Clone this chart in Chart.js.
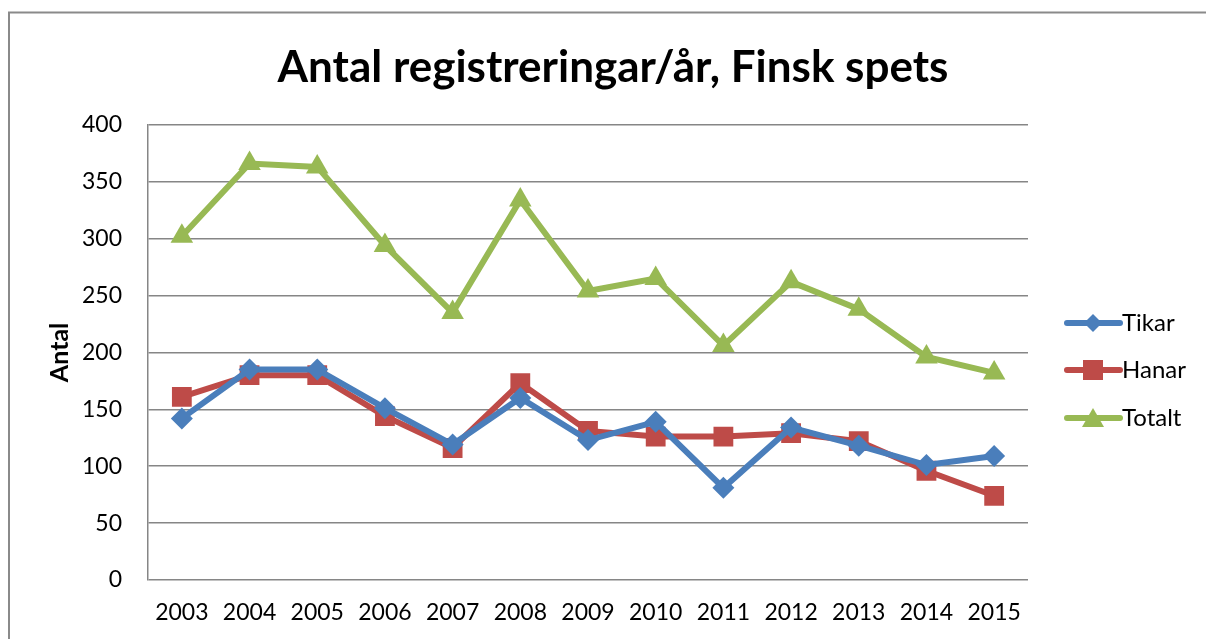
<!DOCTYPE html>
<html><head><meta charset="utf-8">
<script src="https://cdn.jsdelivr.net/npm/chart.js@4/dist/chart.umd.min.js"></script>
<style>html,body{margin:0;padding:0;background:#fff}#wrap{width:1206px;height:639px;position:relative}</style>
</head><body><div id="wrap"><canvas id="c" width="1206" height="639"></canvas></div>
<script>
const years = ['2003','2004','2005','2006','2007','2008','2009','2010','2011','2012','2013','2014','2015'];
const tikar = [142,185,185,151,119,160,123,139,81,134,118,101,109];
const hanar = [161,180,180,144,116,173,131,126,126,129,122,96,74];
const totalt = [302,366,363,294,235,334,254,265,206,262,238,196,182];
const seriesNames = ['Tikar','Hanar','Totalt'];
const yTicks = [0,50,100,150,200,250,300,350,400];

const FONT = 'Lato, "Open Sans", sans-serif';
const colors = ['#4A7EBB','#BE4B48','#98B954'];
const styles = ['rectRot','rect','triangle'];
const radii = [11,14,13];

const frame = {
  id:'frame',
  beforeDraw(chart){
    const ctx = chart.ctx;
    ctx.save();
    ctx.fillStyle='#fff'; ctx.fillRect(0,0,chart.width,chart.height);
    ctx.strokeStyle='#8a8a8a'; ctx.lineWidth=2;
    ctx.beginPath(); ctx.moveTo(9,700); ctx.lineTo(9,12.5); ctx.lineTo(1220,12.5); ctx.stroke();
    ctx.restore();
  }
};

const customLegend = {
  id:'customLegend',
  afterDraw(chart){
    const ctx = chart.ctx;
    const ys = [323,370,418];
    ctx.save();
    chart.data.datasets.forEach((ds,i)=>{
      const y = ys[i];
      ctx.strokeStyle = ds.borderColor; ctx.lineWidth=6; ctx.lineCap='round';
      ctx.beginPath(); ctx.moveTo(1067,y); ctx.lineTo(1120,y); ctx.stroke();
      ctx.fillStyle = ds.borderColor;
      const cx=1093;
      if(i===0){ ctx.beginPath(); ctx.moveTo(cx,y-9); ctx.lineTo(cx+9,y); ctx.lineTo(cx,y+9); ctx.lineTo(cx-9,y); ctx.closePath(); ctx.fill(); }
      else if(i===1){ ctx.fillRect(cx-10,y-10,20,20); }
      else { ctx.beginPath(); ctx.moveTo(cx,y-10); ctx.lineTo(cx+11,y+9); ctx.lineTo(cx-11,y+9); ctx.closePath(); ctx.fill(); }
      ctx.fillStyle='#000'; ctx.font='24px '+FONT; ctx.textBaseline='middle'; ctx.textAlign='left';
      ctx.fillText(ds.label, 1122, y);
    });
    ctx.restore();
  }
};

const datasets = [tikar,hanar,totalt].map((d,i)=>({
  label: seriesNames[i], data: d,
  borderColor: colors[i], backgroundColor: colors[i],
  borderWidth: 6, pointStyle: styles[i], pointRadius: radii[i], pointHoverRadius: radii[i],
  pointBorderWidth: 0, tension: 0
}));

new Chart(document.getElementById('c'), {
  type:'line',
  data:{ labels: years, datasets },
  options:{
    responsive:false, animation:false,
    layout:{ padding:{ left:20, right:0, top:0, bottom:0 } },
    plugins:{
      legend:{ display:false },
      tooltip:{ enabled:false },
      title:{ display:true, text:'Antal registreringar/år, Finsk spets',
        font:{ family:FONT, size:44, weight:'bold' }, color:'#000',
        padding:{ top:41, bottom:31 } }
    },
    scales:{
      x:{ offset:true,
        grid:{ display:false, drawTicks:false },
        border:{ display:false },
        ticks:{ font:{ family:FONT, size:23 }, color:'#000', padding:19, maxRotation:0, autoSkip:false },
        afterFit(s){ s.height = 59; }
      },
      y:{ min:0, max:400,
        afterBuildTicks(s){ s.ticks = yTicks.map(v=>({value:v})); },
        grid:{ color:'#868686', lineWidth:1.5, drawTicks:false },
        border:{ display:true, color:'#868686', width:1.5 },
        ticks:{ font:{ family:FONT, size:23 }, color:'#000', padding:26 },
        title:{ display:true, text:'Antal', font:{ family:FONT, size:25, weight:'bold' }, color:'#000', padding:{top:25,bottom:0} },
        afterFit(s){ s.width = 128; }
      },
      y2:{ position:'right', display:true, min:0, max:1,
        grid:{ display:false, drawTicks:false }, border:{ display:false },
        ticks:{ display:false },
        afterFit(s){ s.width = 178; }
      }
    }
  },
  plugins:[frame, customLegend]
});
</script></body></html>
